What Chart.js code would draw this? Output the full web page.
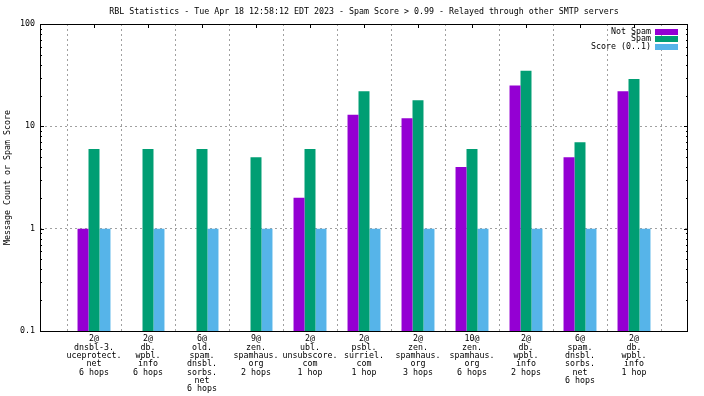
<!DOCTYPE html>
<html>
<head>
<meta charset="utf-8">
<script src="https://cdn.jsdelivr.net/npm/chart.js@4/dist/chart.umd.min.js"></script>
<style>
  body { margin: 0; background: #fff; }
</style>
</head>
<body>
<canvas id="rbl-chart" width="704" height="396"></canvas>
<script>
// RBL hits, relayed through other SMTP servers
const categories = [
  "2@\ndnsbl-3.\nuceprotect.\nnet\n6 hops",
  "2@\ndb.\nwpbl.\ninfo\n6 hops",
  "6@\nold.\nspam.\ndnsbl.\nsorbs.\nnet\n6 hops",
  "9@\nzen.\nspamhaus.\norg\n2 hops",
  "2@\nubl.\nunsubscore.\ncom\n1 hop",
  "2@\npsbl.\nsurriel.\ncom\n1 hop",
  "2@\nzen.\nspamhaus.\norg\n3 hops",
  "10@\nzen.\nspamhaus.\norg\n6 hops",
  "2@\ndb.\nwpbl.\ninfo\n2 hops",
  "6@\nspam.\ndnsbl.\nsorbs.\nnet\n6 hops",
  "2@\ndb.\nwpbl.\ninfo\n1 hop"
];
const notSpam = [1, null, null, null, 2, 13, 12, 4, 25, 5, 22];
const spam = [6, 6, 6, 5, 6, 22, 18, 6, 35, 7, 29];
const score = [1, 1, 1, 1, 1, 1, 1, 1, 1, 1, 1];
const yTicks = [0.1, 1, 10, 100];

const titleText = "RBL Statistics - Tue Apr 18 12:58:12 EDT 2023 - Spam Score > 0.99 - Relayed through other SMTP servers";
const FONT = "DejaVu Sans Mono";
const FSIZE = 8.3;
const GRID = "#a0a0a0";

const toPoints = arr => arr.map((v, i) => ({x: i + 1, y: v}));

const series = [
  {label: "Not Spam", color: "#9400d3", values: notSpam},
  {label: "Spam", color: "#009e73", values: spam},
  {label: "Score (0..1)", color: "#56b4e9", values: score}
];

// gnuplot-ish frame, inward ticks, title and key
const gnuFrame = {
  id: "gnuFrame",
  afterDraw(chart) {
    const {ctx, chartArea: a, scales: {x, y}} = chart;
    ctx.save();
    ctx.strokeStyle = "#000";
    ctx.lineWidth = 1;
    ctx.beginPath();
    for (let d = -1; d < 2; d++) {
      for (let m = 1; m < 10; m++) {
        const py = Math.round(y.getPixelForValue(m * Math.pow(10, d))) + 0.5;
        const len = m === 1 ? 4 : 2;
        ctx.moveTo(a.left, py); ctx.lineTo(a.left + len, py);
        ctx.moveTo(a.right, py); ctx.lineTo(a.right - len, py);
      }
    }
    categories.forEach((c, i) => {
      const px = Math.round(x.getPixelForValue(i + 1)) + 0.5;
      ctx.moveTo(px, a.top); ctx.lineTo(px, a.top + 4);
    });
    ctx.stroke();
    ctx.strokeRect(a.left + 0.5, a.top + 0.5, a.right - a.left - 1, a.bottom - a.top);

    ctx.fillStyle = "#000";
    ctx.font = FSIZE + "px '" + FONT + "'";
    ctx.textBaseline = "middle";
    ctx.textAlign = "center";
    ctx.fillText(titleText, (a.left + a.right) / 2, 12);

    ctx.textAlign = "right";
    series.forEach((s, i) => {
      const cy = a.top + 7.5 + i * 7.7;
      ctx.fillStyle = "#000";
      ctx.fillText(s.label, a.right - 37, cy);
      ctx.fillStyle = s.color;
      ctx.fillRect(a.right - 33, Math.round(cy - 3), 23, 6);
    });
    ctx.restore();
  }
};

new Chart(document.getElementById("rbl-chart"), {
  type: "bar",
  data: {
    datasets: series.map(s => ({
      label: s.label,
      backgroundColor: s.color,
      borderWidth: 0,
      data: toPoints(s.values)
    }))
  },
  options: {
    responsive: false,
    devicePixelRatio: 1,
    animation: false,
    layout: {padding: {top: 24, right: 16, left: 0, bottom: 0}},
    datasets: {bar: {categoryPercentage: 0.61, barPercentage: 1.0}},
    plugins: {
      legend: {display: false},
      title: {display: false},
      tooltip: {enabled: false}
    },
    scales: {
      x: {
        type: "linear",
        min: 0,
        max: 12,
        offset: false,
        afterFit: s => { s.height = 65; },
        afterBuildTicks: s => { s.ticks = categories.map((c, i) => ({value: i + 1})); },
        border: {display: false, dash: [2, 3]},
        grid: {color: GRID, drawTicks: false, lineWidth: 1},
        ticks: {
          padding: 4,
          maxRotation: 0,
          autoSkip: false,
          color: "#000",
          font: {family: FONT, size: FSIZE, lineHeight: 1},
          callback: v => (categories[v - 1] || "").split("\n")
        }
      },
      y: {
        type: "logarithmic",
        min: 0.1,
        max: 100,
        afterFit: s => { s.width = 40; },
        afterBuildTicks: s => { s.ticks = yTicks.map(v => ({value: v, major: true})); },
        border: {display: false, dash: [2, 3]},
        grid: {
          color: c => (c.tick && (c.tick.value === 0.1 || c.tick.value === 100)) ? "rgba(0,0,0,0)" : GRID,
          drawTicks: false,
          lineWidth: 1
        },
        ticks: {
          padding: 5,
          color: "#000",
          font: {family: FONT, size: FSIZE},
          callback: v => String(v)
        },
        title: {
          display: true,
          text: "Message Count or Spam Score",
          color: "#000",
          font: {family: FONT, size: FSIZE, lineHeight: 1},
          padding: {top: 4, bottom: 0}
        }
      }
    }
  },
  plugins: [gnuFrame]
});
</script>
</body>
</html>
